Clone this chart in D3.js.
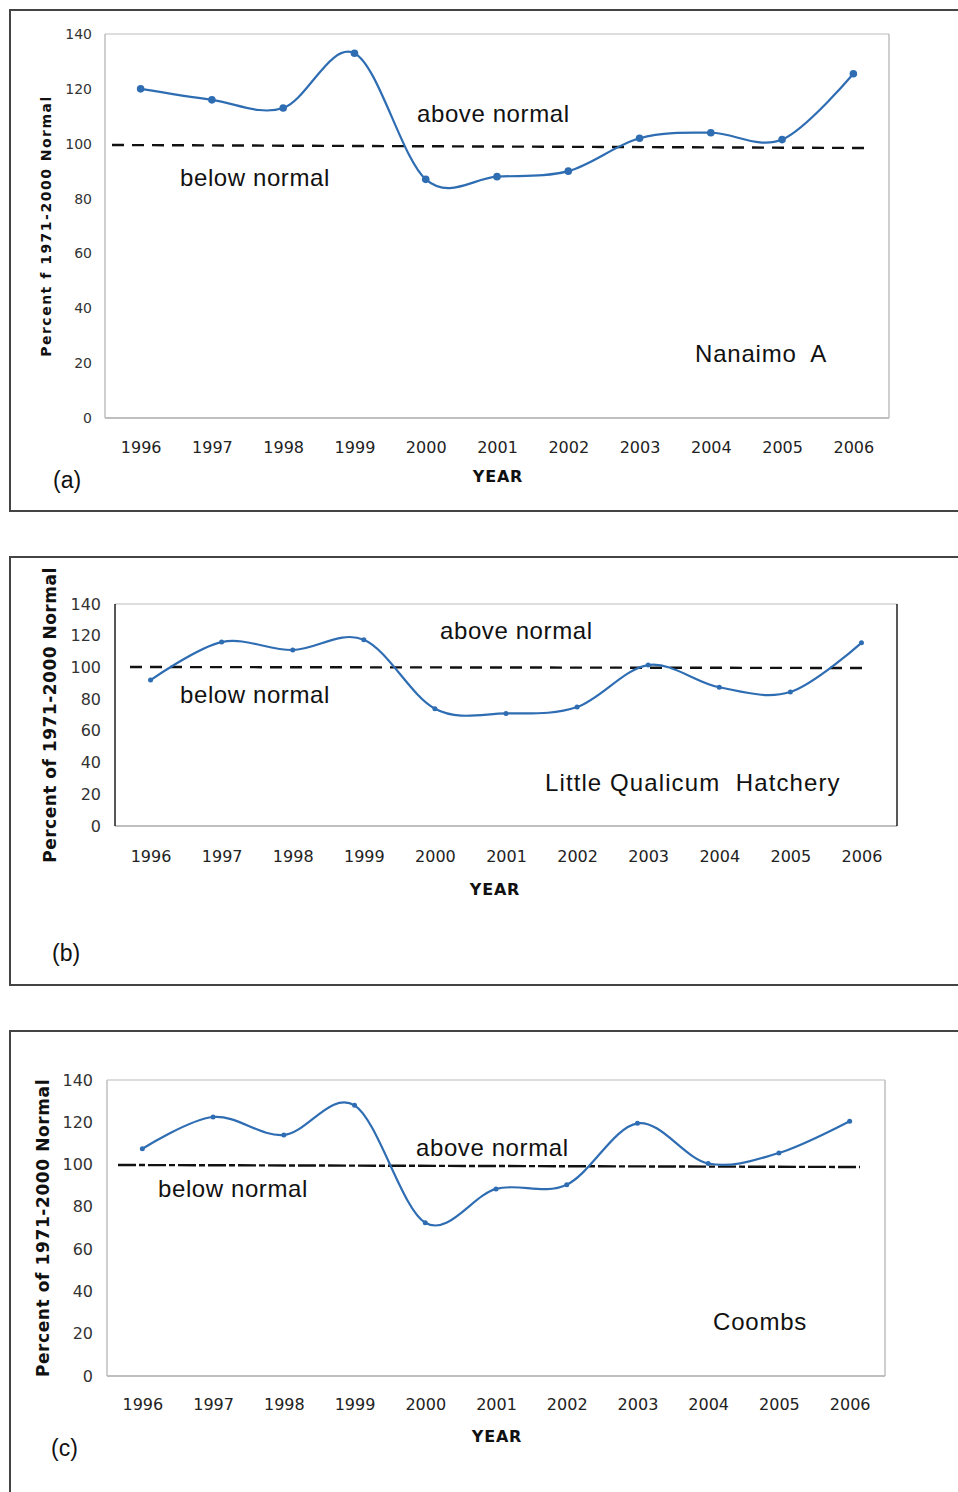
<!DOCTYPE html>
<html>
<head>
<meta charset="utf-8">
<script src="https://cdn.jsdelivr.net/npm/d3@7"></script>
<style>
  body { margin: 0; background: #fff; }
  svg { display: block; }
</style>
</head>
<body>
<svg id="chart" width="958" height="1492"></svg>
<script>
'use strict';

// values (percent of 1971-2000 normal)
var years = [1996, 1997, 1998, 1999, 2000, 2001, 2002, 2003, 2004, 2005, 2006];
var nanaimo = [120, 116, 113, 133, 87, 88, 90, 102, 104, 101.5, 125.5];
var qualicum = [92, 116, 111, 117.5, 74, 71, 75, 101.5, 87.5, 84.5, 115.5];
var coombs = [107.5, 122.5, 114, 128, 72.5, 88.5, 90.5, 119.5, 100.5, 105.5, 120.5];
var yTicks = [0, 20, 40, 60, 80, 100, 120, 140];

var blue = "#2f6db3";
var tickFont = "'DejaVu Sans', Verdana, sans-serif";
var noteFont = "'Liberation Sans', Arial, sans-serif";

// layout of each panel
var panels = [
	{ tag: "(a)", station: "Nanaimo  A", values: nanaimo,
		ylabel: "Percent f 1971-2000 Normal",
		frame: [10, 10, 511], plot: [105, 889, 34, 418],
		ytickX: 92, ytickSize: 14, ylabelX: 46, ylabelY: 226, ylabelSize: 14, ylabelSpacing: 1.5,
		xtickY: 453, yearX: 498, yearY: 482, tagPos: [53, 488],
		dash: [112, 865, 145, 148], dashArray: "12,8",
		above: [417, 122], below: [180, 186], stationPos: [695, 362], stationSpacing: 0.8,
		sideStroke: "#bbb", dotR: 3.8 },
	{ tag: "(b)", station: "Little Qualicum  Hatchery", values: qualicum,
		ylabel: "Percent of 1971-2000 Normal",
		frame: [10, 557, 985], plot: [115, 897, 604, 826],
		ytickX: 101, ytickSize: 16, ylabelX: 50, ylabelY: 715, ylabelSize: 17, ylabelSpacing: 0.5,
		xtickY: 862, yearX: 495, yearY: 895, tagPos: [52, 961],
		dash: [130, 865, 667, 668], dashArray: "12,8",
		above: [440, 639], below: [180, 703], stationPos: [545, 791], stationSpacing: 1.1,
		sideStroke: "#111", dotR: 2.5 },
	{ tag: "(c)", station: "Coombs", values: coombs,
		ylabel: "Percent of 1971-2000 Normal",
		frame: [10, 1031, 1510], plot: [107, 885, 1080, 1376],
		ytickX: 93, ytickSize: 16, ylabelX: 43, ylabelY: 1228, ylabelSize: 17, ylabelSpacing: 0.6,
		xtickY: 1410, yearX: 497, yearY: 1442, tagPos: [51, 1456],
		dash: [118, 860, 1165, 1167], dashArray: "18,3,6,3",
		above: [416, 1156], below: [158, 1197], stationPos: [713, 1330], stationSpacing: 0.8,
		sideStroke: "#bbb", dotR: 2.5 }
];

var svg = d3.select("#chart");

panels.forEach(function (p) {
	var g = svg.append("g");
	var left = p.plot[0], right = p.plot[1], top = p.plot[2], bottom = p.plot[3];

	// outer frame (right edge runs off the page)
	g.append("rect")
		.attr("x", p.frame[0]).attr("y", p.frame[1])
		.attr("width", 980).attr("height", p.frame[2] - p.frame[1])
		.attr("fill", "none").attr("stroke", "#444").attr("stroke-width", 2);

	var x = d3.scalePoint().domain(years).range([left, right]).padding(0.5);
	var y = d3.scaleLinear().domain([0, 140]).range([bottom, top]);

	// plot area border
	g.append("line").attr("x1", left).attr("x2", right).attr("y1", top).attr("y2", top)
		.attr("stroke", "#bbb").attr("stroke-width", 1.2);
	g.append("line").attr("x1", left).attr("x2", right).attr("y1", bottom).attr("y2", bottom)
		.attr("stroke", "#aaa").attr("stroke-width", 1.6);
	g.append("line").attr("x1", left).attr("x2", left).attr("y1", top).attr("y2", bottom)
		.attr("stroke", p.sideStroke).attr("stroke-width", 1.4);
	g.append("line").attr("x1", right).attr("x2", right).attr("y1", top).attr("y2", bottom)
		.attr("stroke", p.sideStroke).attr("stroke-width", 1.4);

	// y axis ticks
	var yAxis = g.append("g")
		.attr("transform", "translate(" + p.ytickX + ",0)")
		.call(d3.axisLeft(y).tickValues(yTicks).tickSize(0).tickPadding(0));
	yAxis.select(".domain").remove();
	yAxis.selectAll("text")
		.attr("font-family", tickFont).attr("font-size", p.ytickSize).attr("fill", "#333");

	// x axis ticks
	var xAxis = g.append("g")
		.attr("transform", "translate(0," + (p.xtickY - 11) + ")")
		.call(d3.axisBottom(x).tickFormat(d3.format("d")).tickSize(0).tickPadding(0));
	xAxis.select(".domain").remove();
	xAxis.selectAll("text")
		.attr("font-family", tickFont).attr("font-size", 16).attr("fill", "#222");

	g.append("text")
		.attr("x", p.yearX).attr("y", p.yearY)
		.attr("text-anchor", "middle")
		.attr("font-family", tickFont).attr("font-weight", "bold")
		.attr("font-size", 16).attr("letter-spacing", 0.8).attr("fill", "#111")
		.text("YEAR");

	g.append("text")
		.attr("transform", "translate(" + p.ylabelX + "," + p.ylabelY + ") rotate(-90)")
		.attr("text-anchor", "middle").attr("dy", "0.35em")
		.attr("font-family", tickFont).attr("font-weight", "bold")
		.attr("font-size", p.ylabelSize).attr("letter-spacing", p.ylabelSpacing)
		.attr("fill", "#111")
		.text(p.ylabel);

	g.append("text")
		.attr("x", p.tagPos[0]).attr("y", p.tagPos[1])
		.attr("font-family", noteFont).attr("font-size", 23).attr("fill", "#111")
		.text(p.tag);

	// normal reference line
	g.append("line")
		.attr("x1", p.dash[0]).attr("x2", p.dash[1])
		.attr("y1", p.dash[2]).attr("y2", p.dash[3])
		.attr("stroke", "#111").attr("stroke-width", 2.4)
		.attr("stroke-dasharray", p.dashArray);

	// smoothed series
	var line = d3.line()
		.x(function (d, i) { return x(years[i]); })
		.y(function (d) { return y(d); })
		.curve(d3.curveCatmullRom.alpha(0));
	g.append("path")
		.datum(p.values)
		.attr("d", line)
		.attr("fill", "none").attr("stroke", blue).attr("stroke-width", 2.2);

	g.selectAll(".dot")
		.data(p.values)
		.enter().append("circle")
		.attr("class", "dot")
		.attr("cx", function (d, i) { return x(years[i]); })
		.attr("cy", function (d) { return y(d); })
		.attr("r", p.dotR)
		.attr("fill", blue);

	// annotations
	g.append("text").attr("x", p.above[0]).attr("y", p.above[1])
		.attr("font-family", noteFont).attr("font-size", 24).attr("letter-spacing", 0.6)
		.attr("fill", "#111")
		.text("above normal");
	g.append("text").attr("x", p.below[0]).attr("y", p.below[1])
		.attr("font-family", noteFont).attr("font-size", 24).attr("letter-spacing", 0.6)
		.attr("fill", "#111")
		.text("below normal");
	g.append("text").attr("x", p.stationPos[0]).attr("y", p.stationPos[1])
		.attr("font-family", noteFont).attr("font-size", 24)
		.attr("letter-spacing", p.stationSpacing).attr("fill", "#111")
		.attr("xml:space", "preserve")
		.text(p.station);
});
</script>
</body>
</html>
